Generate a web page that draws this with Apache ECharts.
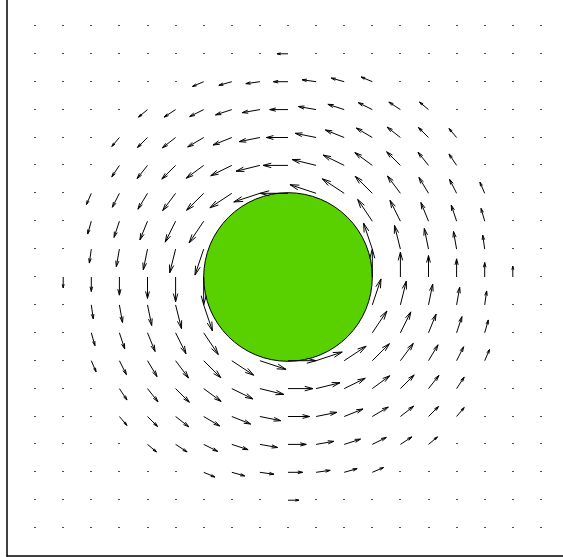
<!DOCTYPE html>
<html>
<head>
<meta charset="utf-8">
<script src="https://cdn.jsdelivr.net/npm/echarts@6/dist/echarts.min.js"></script>
<style>
  html, body { margin: 0; padding: 0; background: #ffffff; }
  #chart { width: 563px; height: 557px; }
</style>
</head>
<body>
<div id="chart"></div>
<script>
// Sample grid of the vortex field (x left to right, y top to bottom)
const gridX = [-9, -8, -7, -6, -5, -4, -3, -2, -1, 0, 1, 2, 3, 4, 5, 6, 7, 8, 9];
const gridY = [9, 8, 7, 6, 5, 4, 3, 2, 1, 0, -1, -2, -3, -4, -5, -6, -7, -8, -9];

// Horizontal velocity component at each grid node (rows follow gridY)
const U = [
  [0,0,0,0,0,0,0,0,0,0,0,0,0,0,0,0,0,0,0],
  [0,0,0,0,0,0,0,0,0,-0.39,0,0,0,0,0,0,0,0,0],
  [0,0,0,0,0,0,-0.40,-0.46,-0.50,-0.52,-0.50,-0.46,-0.40,0,0,0,0,0,0],
  [0,0,0,0,-0.32,-0.41,-0.50,-0.58,-0.63,-0.65,-0.63,-0.58,-0.50,-0.41,-0.32,0,0,0,0],
  [0,0,0,-0.27,-0.36,-0.47,-0.57,-0.67,-0.74,-0.77,-0.74,-0.67,-0.57,-0.47,-0.36,-0.27,0,0,0],
  [0,0,0,-0.27,-0.37,-0.49,-0.62,-0.75,-0.85,-0.89,-0.85,-0.75,-0.62,-0.49,-0.37,-0.27,0,0,0],
  [0,0,-0.17,-0.25,-0.34,-0.46,-0.61,-0.78,-0.93,-1.00,-0.93,-0.78,-0.61,-0.46,-0.34,-0.25,-0.17,0,0],
  [0,0,-0.13,-0.19,-0.27,-0.37,-0.52,0,0,0,0,0,-0.52,-0.37,-0.27,-0.19,-0.13,0,0],
  [0,0,-0.07,-0.11,-0.15,-0.21,-0.31,0,0,0,0,0,-0.31,-0.21,-0.15,-0.11,-0.07,0,0],
  [0,0,0,0,0,0,0,0,0,0,0,0,0,0,0,0,0,0,0],
  [0,0,0.07,0.11,0.15,0.21,0.31,0,0,0,0,0,0.31,0.21,0.15,0.11,0.07,0,0],
  [0,0,0.13,0.19,0.27,0.37,0.52,0,0,0,0,0,0.52,0.37,0.27,0.19,0.13,0,0],
  [0,0,0.17,0.25,0.34,0.46,0.61,0.78,0.93,1.00,0.93,0.78,0.61,0.46,0.34,0.25,0.17,0,0],
  [0,0,0,0.27,0.37,0.49,0.62,0.75,0.85,0.89,0.85,0.75,0.62,0.49,0.37,0.27,0,0,0],
  [0,0,0,0.27,0.36,0.47,0.57,0.67,0.74,0.77,0.74,0.67,0.57,0.47,0.36,0.27,0,0,0],
  [0,0,0,0,0.32,0.41,0.50,0.58,0.63,0.65,0.63,0.58,0.50,0.41,0.32,0,0,0,0],
  [0,0,0,0,0,0,0.40,0.46,0.50,0.52,0.50,0.46,0.40,0,0,0,0,0,0],
  [0,0,0,0,0,0,0,0,0,0.39,0,0,0,0,0,0,0,0,0],
  [0,0,0,0,0,0,0,0,0,0,0,0,0,0,0,0,0,0,0]
];

// Vertical velocity component at each grid node (rows follow gridY)
const V = [
  [0,0,0,0,0,0,0,0,0,0,0,0,0,0,0,0,0,0,0],
  [0,0,0,0,0,0,0,0,0,0,0,0,0,0,0,0,0,0,0],
  [0,0,0,0,0,0,-0.17,-0.13,-0.07,0,0.07,0.13,0.17,0,0,0,0,0,0],
  [0,0,0,0,-0.27,-0.27,-0.25,-0.19,-0.11,0,0.11,0.19,0.25,0.27,0.27,0,0,0,0],
  [0,0,0,-0.32,-0.36,-0.37,-0.34,-0.27,-0.15,0,0.15,0.27,0.34,0.37,0.36,0.32,0,0,0],
  [0,0,0,-0.41,-0.47,-0.49,-0.46,-0.37,-0.21,0,0.21,0.37,0.46,0.49,0.47,0.41,0,0,0],
  [0,0,-0.40,-0.50,-0.57,-0.62,-0.61,-0.52,-0.31,0,0.31,0.52,0.61,0.62,0.57,0.50,0.40,0,0],
  [0,0,-0.46,-0.58,-0.67,-0.75,-0.78,0,0,0,0,0,0.78,0.75,0.67,0.58,0.46,0,0],
  [0,0,-0.50,-0.63,-0.74,-0.85,-0.93,0,0,0,0,0,0.93,0.85,0.74,0.63,0.50,0,0],
  [0,-0.39,-0.52,-0.65,-0.77,-0.89,-1.00,0,0,0,0,0,1.00,0.89,0.77,0.65,0.52,0.39,0],
  [0,0,-0.50,-0.63,-0.74,-0.85,-0.93,0,0,0,0,0,0.93,0.85,0.74,0.63,0.50,0,0],
  [0,0,-0.46,-0.58,-0.67,-0.75,-0.78,0,0,0,0,0,0.78,0.75,0.67,0.58,0.46,0,0],
  [0,0,-0.40,-0.50,-0.57,-0.62,-0.61,-0.52,-0.31,0,0.31,0.52,0.61,0.62,0.57,0.50,0.40,0,0],
  [0,0,0,-0.41,-0.47,-0.49,-0.46,-0.37,-0.21,0,0.21,0.37,0.46,0.49,0.47,0.41,0,0,0],
  [0,0,0,-0.32,-0.36,-0.37,-0.34,-0.27,-0.15,0,0.15,0.27,0.34,0.37,0.36,0.32,0,0,0],
  [0,0,0,0,-0.27,-0.27,-0.25,-0.19,-0.11,0,0.11,0.19,0.25,0.27,0.27,0,0,0,0],
  [0,0,0,0,0,0,-0.17,-0.13,-0.07,0,0.07,0.13,0.17,0,0,0,0,0,0],
  [0,0,0,0,0,0,0,0,0,0,0,0,0,0,0,0,0,0,0],
  [0,0,0,0,0,0,0,0,0,0,0,0,0,0,0,0,0,0,0]
];

// Cylinder: centre x, centre y, radius
const cylinder = [[0, 0, 3]];

// Axis extent
const axisMin = -10;
const axisMax = 10;

// One record per node: [x, y, u, v]
const quiverData = [];
gridY.forEach(function (y, i) {
  gridX.forEach(function (x, j) {
    quiverData.push([x, y, U[i][j], V[i][j]]);
  });
});

const HEAD_LEN = 0.33;   // arrow head length relative to the vector
const HEAD_WIDTH = 0.27; // head half-width relative to head length

// Still nodes are drawn as a tiny mark
function renderNode(params, api) {
  const u = api.value(2), v = api.value(3);
  if (u !== 0 || v !== 0) return null;
  const p0 = api.coord([api.value(0), api.value(1)]);
  return {
    type: 'rect',
    shape: { x: Math.round(p0[0]) - 1, y: Math.round(p0[1]) - 1, width: 2, height: 1 },
    style: { fill: '#4a4a4a' }
  };
}

function renderArrow(params, api) {
  const x = api.value(0), y = api.value(1), u = api.value(2), v = api.value(3);
  if (u === 0 && v === 0) return null;
  const p0 = api.coord([x, y]);
  const p1 = api.coord([x + u, y + v]);
  const dx = p1[0] - p0[0], dy = p1[1] - p0[1];
  const h1 = [p1[0] - HEAD_LEN * (dx + HEAD_WIDTH * dy), p1[1] - HEAD_LEN * (dy - HEAD_WIDTH * dx)];
  const h2 = [p1[0] - HEAD_LEN * (dx - HEAD_WIDTH * dy), p1[1] - HEAD_LEN * (dy + HEAD_WIDTH * dx)];
  const lineStyle = { stroke: '#000000', lineWidth: 1, fill: null };
  return {
    type: 'group',
    children: [
      { type: 'polyline', shape: { points: [p0, p1] }, style: lineStyle },
      { type: 'polyline', shape: { points: [h1, p1, h2] }, style: lineStyle }
    ]
  };
}

function renderCylinder(params, api) {
  const c = api.coord([api.value(0), api.value(1)]);
  const r = api.size([api.value(2), 0])[0];
  return {
    type: 'circle',
    shape: { cx: c[0], cy: c[1], r: r },
    style: { fill: '#59d000', stroke: '#000000', lineWidth: 1 }
  };
}

const chart = echarts.init(document.getElementById('chart'), null, { renderer: 'canvas' });
chart.setOption({
  animation: false,
  backgroundColor: '#ffffff',
  grid: { left: 7, top: -2, width: 562, height: 558, containLabel: false, outerBoundsMode: 'none' },
  xAxis: {
    type: 'value', min: axisMin, max: axisMax,
    axisLine: { show: true, onZero: false, lineStyle: { color: '#000000', width: 1.5 } },
    axisTick: { show: false }, axisLabel: { show: false }, splitLine: { show: false }
  },
  yAxis: {
    type: 'value', min: axisMin, max: axisMax,
    axisLine: { show: true, onZero: false, lineStyle: { color: '#000000', width: 1.5 } },
    axisTick: { show: false }, axisLabel: { show: false }, splitLine: { show: false }
  },
  series: [
    {
      type: 'custom', name: 'nodes', data: quiverData,
      dimensions: ['x', 'y', 'u', 'v'],
      encode: { x: 0, y: 1 }, renderItem: renderNode, z: 1, clip: false, silent: true
    },
    {
      type: 'custom', name: 'cylinder', data: cylinder,
      encode: { x: 0, y: 1 }, renderItem: renderCylinder, z: 2, clip: false, silent: true
    },
    {
      type: 'custom', name: 'velocity', data: quiverData,
      dimensions: ['x', 'y', 'u', 'v'],
      encode: { x: 0, y: 1 }, renderItem: renderArrow, z: 3, clip: false, silent: true
    }
  ]
});
</script>
</body>
</html>
